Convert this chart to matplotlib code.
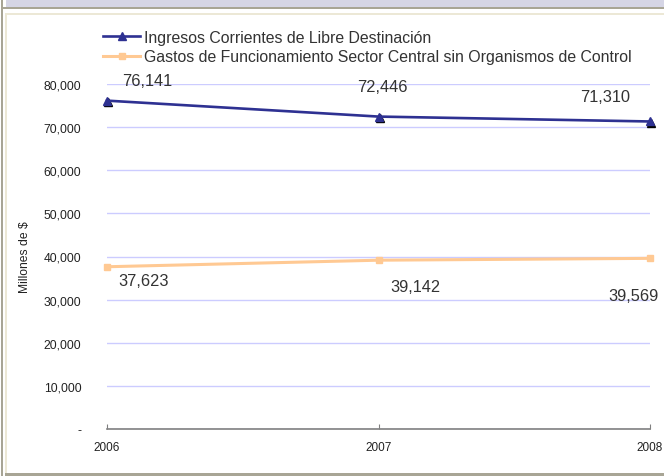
import matplotlib
matplotlib.use("Agg")
import matplotlib.pyplot as plt
from matplotlib.patches import Rectangle
from matplotlib.lines import Line2D
from matplotlib import transforms
from matplotlib.ticker import FuncFormatter

# ---- data (millones de $) ----
years = ["2006", "2007", "2008"]
ingresos = [76141, 72446, 71310]
gastos = [37623, 39142, 39569]
serie_ingresos = "Ingresos Corrientes de Libre Destinación"
serie_gastos = "Gastos de Funcionamiento Sector Central sin Organismos de Control"
y_ticks = [0, 10000, 20000, 30000, 40000, 50000, 60000, 70000, 80000]

plt.rcParams["font.family"] = ["Liberation Sans", "DejaVu Sans"]

W, H = 664, 477
fig = plt.figure(figsize=(W / 100, H / 100), dpi=100)
fig.patch.set_facecolor("white")

BLUE = "#2e3192"
ORANGE = "#ffc993"
GRID = "#ccccff"
FRAME_GRAY = "#a8a595"
CREAM = "#ece8d6"
LAVENDER = "#d5d5e5"
TEXT = "#333333"


def px_rect(x0, y0, x1, y1, color):
    """Rectangle given in pixel coordinates measured from the top-left corner."""
    fig.patches.append(Rectangle((x0 / W, 1 - y1 / H), (x1 - x0) / W, (y1 - y0) / H,
                                 transform=fig.transFigure, facecolor=color,
                                 edgecolor="none", zorder=-5))


# window frame
px_rect(6, 0, W, 8, LAVENDER)
px_rect(3, 8, W, 10, FRAME_GRAY)
px_rect(1, 0, 3, H, FRAME_GRAY)
px_rect(5, 14, W, 16, CREAM)
px_rect(5, 14, 7, 474, CREAM)
px_rect(5, 474, W, H, FRAME_GRAY)

# plot area
left, right, top, bottom = 107, 650, 85, 430
ax = fig.add_axes([left / W, 1 - bottom / H, (right - left) / W, (bottom - top) / H])
ax.set_facecolor("none")

x = list(range(len(years)))

# blue series with a dark shadow under the triangle markers
shadow = transforms.offset_copy(ax.transData, fig=fig, x=1.2, y=-1.5, units="dots")
ax.plot(x, ingresos, linestyle="none", marker="^", markersize=6, color="black",
        transform=shadow, zorder=3, clip_on=False)
ax.plot(x, ingresos, color=BLUE, linewidth=1.9, marker="^", markersize=6,
        markerfacecolor=BLUE, markeredgecolor=BLUE, zorder=4, clip_on=False)
ax.plot(x, gastos, color=ORANGE, linewidth=2.2, marker="s", markersize=5,
        markerfacecolor=ORANGE, markeredgecolor=ORANGE, zorder=4, clip_on=False)

ax.set_xlim(0, len(years) - 1)
ax.set_ylim(0, 80000)
ax.set_yticks(y_ticks)
ax.yaxis.set_major_formatter(FuncFormatter(lambda v, p: "-" if v == 0 else f"{int(v):,}"))
ax.set_xticks(x)
ax.set_xticklabels(years)

ax.grid(axis="y", color=GRID, linewidth=1)
ax.set_axisbelow(True)
for s in ["left", "right", "top"]:
    ax.spines[s].set_visible(False)
ax.spines["bottom"].set_color("#808080")
ax.spines["bottom"].set_linewidth(1.2)

ax.tick_params(axis="y", length=0, pad=18.5, labelsize=8.7, labelcolor="#222222")
ax.tick_params(axis="x", direction="in", length=3.6, color="#808080", pad=9,
               labelsize=8.5, labelcolor="#222222")

ax.set_ylabel("Millones de $", fontsize=8.7, color="#222222", labelpad=9)

# data labels (pixel offsets from each point)
off_ing = [(40, 20), (4, 30), (-45, 25)]
off_gas = [(37, -14), (37, -26), (-17, -37)]
for i, v in enumerate(ingresos):
    ax.annotate(f"{v:,}", (x[i], v), xytext=off_ing[i], textcoords="offset pixels",
                ha="center", va="center", fontsize=11.8, color=TEXT,
                annotation_clip=False, zorder=5)
for i, v in enumerate(gastos):
    ax.annotate(f"{v:,}", (x[i], v), xytext=off_gas[i], textcoords="offset pixels",
                ha="center", va="center", fontsize=11.8, color=TEXT,
                annotation_clip=False, zorder=5)

# legend
handles = [
    Line2D([], [], color=BLUE, linewidth=1.9, marker="^", markersize=5.5, markerfacecolor=BLUE),
    Line2D([], [], color=ORANGE, linewidth=2.2, marker="s", markersize=5, markerfacecolor=ORANGE),
]
leg = fig.legend(handles, [serie_ingresos, serie_gastos], loc="upper left",
                 bbox_to_anchor=(103 / W, 1 - 31 / H), frameon=False, fontsize=11.4,
                 handlelength=2.34, handletextpad=0.25, labelspacing=0.28,
                 borderpad=0, borderaxespad=0)
for t in leg.get_texts():
    t.set_color(TEXT)

fig.savefig("out.png", dpi=100)
